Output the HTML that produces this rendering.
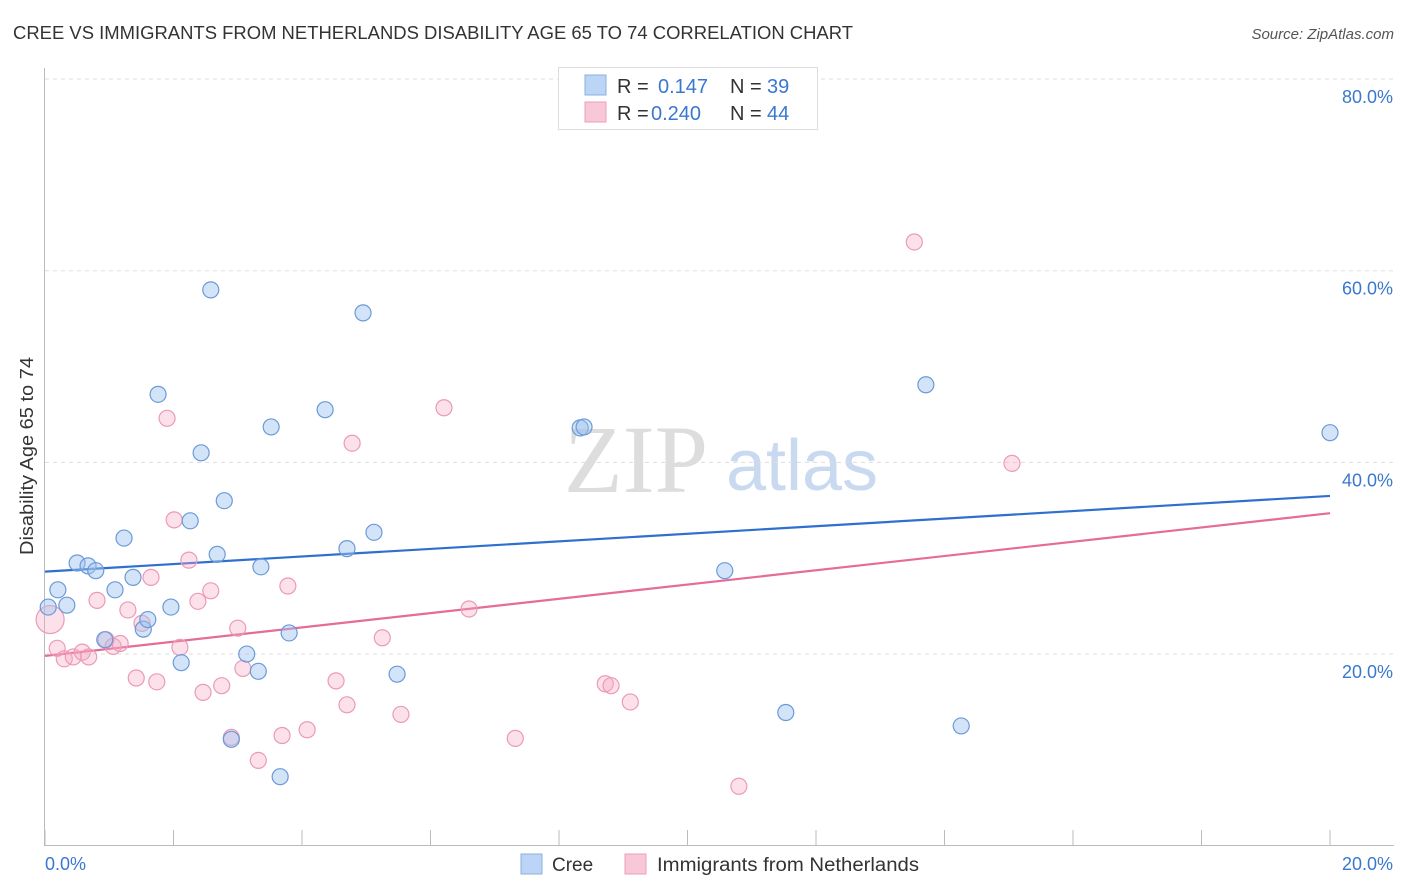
<!DOCTYPE html>
<html><head><meta charset="utf-8"><style>
body{margin:0;background:#fff;font-family:"Liberation Sans",sans-serif;}
svg{display:block}
</style></head><body>
<svg id="chart" width="1406" height="892">
<text x="13" y="39" font-size="18" fill="#333" textLength="840" lengthAdjust="spacingAndGlyphs">CREE VS IMMIGRANTS FROM NETHERLANDS DISABILITY AGE 65 TO 74 CORRELATION CHART</text>
<text x="1394" y="39" font-size="15" fill="#555" font-style="italic" text-anchor="end">Source: ZipAtlas.com</text>
<text x="33" y="456" font-size="18" fill="#333" transform="rotate(-90 33 456)" text-anchor="middle" textLength="198" lengthAdjust="spacingAndGlyphs">Disability Age 65 to 74</text>
<g><text x="636" y="492" font-size="96" font-family="Liberation Serif,serif" fill="#ddd" text-anchor="middle">ZIP</text><text x="802" y="490" font-size="72" fill="#c8d9f0" text-anchor="middle">atlas</text></g>
<g id="grid"></g><g id="axes"></g><g id="trend"></g><g id="pts"></g>
<g>
<rect x="558.5" y="67.5" width="259" height="62" fill="#fff" stroke="#ddd"/>
<rect x="585" y="75" width="21" height="20" fill="#bcd4f5" stroke="#8ab0e0"/>
<rect x="585" y="102" width="21" height="20" fill="#f9c8d8" stroke="#ee9cb8"/>
<text x="617" y="93" font-size="20" fill="#333">R = </text><text x="658" y="93" font-size="20" fill="#3a78d0">0.147</text>
<text x="730" y="93" font-size="20" fill="#333">N = </text><text x="767" y="93" font-size="20" fill="#3a78d0">39</text>
<text x="617" y="120" font-size="20" fill="#333">R = </text><text x="651" y="120" font-size="20" fill="#3a78d0">0.240</text>
<text x="730" y="120" font-size="20" fill="#333">N = </text><text x="767" y="120" font-size="20" fill="#3a78d0">44</text>
</g>
<g>
<rect x="521" y="854" width="21" height="20" fill="#bcd4f5" stroke="#8ab0e0"/>
<text x="552" y="871" font-size="19" fill="#333">Cree</text>
<rect x="625" y="854" width="21" height="20" fill="#f9c8d8" stroke="#ee9cb8"/>
<text x="657" y="871" font-size="19" fill="#333" textLength="262" lengthAdjust="spacingAndGlyphs">Immigrants from Netherlands</text>
</g>
</svg>
<script>
const creeX=[0.05,0.20,0.34,0.50,0.67,0.79,0.93,1.09,1.23,1.37,1.53,1.60,1.76,1.96,2.12,2.26,2.43,2.58,2.68,2.79,2.90,3.14,3.32,3.36,3.52,3.66,3.80,4.36,4.70,4.95,5.12,5.48,8.33,8.39,10.58,11.53,13.71,14.26,20.0];
const creeY=[24.9,26.7,25.1,29.5,29.2,28.7,21.5,26.7,32.1,28.0,22.6,23.6,47.1,24.9,19.1,33.9,41.0,58.0,30.4,36.0,11.1,20.0,18.2,29.1,43.7,7.2,22.2,45.5,31.0,55.6,32.7,17.9,43.6,43.7,28.7,13.9,48.1,12.5,43.1];
const nethX=[0.08,0.19,0.30,0.44,0.58,0.68,0.81,0.95,1.06,1.17,1.29,1.42,1.51,1.65,1.74,1.90,2.01,2.10,2.24,2.38,2.46,2.58,2.75,2.90,3.00,3.08,3.32,3.69,3.78,4.08,4.53,4.70,4.78,5.25,5.54,6.21,6.60,7.32,8.72,8.81,9.11,10.80,13.53,15.05];
const nethY=[23.6,20.6,19.5,19.7,20.2,19.7,25.6,21.5,20.8,21.1,24.6,17.5,23.2,28.0,17.1,44.6,34.0,20.7,29.8,25.5,16.0,26.6,16.7,11.3,22.7,18.5,8.9,11.5,27.1,12.1,17.2,14.7,42.0,21.7,13.7,45.7,24.7,11.2,16.9,16.7,15.0,6.2,63.0,39.9];
const creeTrend=[28.6,36.5];
const nethTrend=[19.8,34.7];
const yTicks=[20,40,60,80];
const yTickLabels=["20.0%","40.0%","60.0%","80.0%"];
const xTicks=[0,2,4,6,8,10,12,14,16,18,20];
const xs=v=>45+v*64.25, ys=v=>845.7-v*9.583;
const NS="http://www.w3.org/2000/svg";
function mk(t,a,p){const e=document.createElementNS(NS,t);for(const k in a)e.setAttribute(k,a[k]);p.appendChild(e);return e;}
const grid=document.getElementById('grid'),axes=document.getElementById('axes'),tr=document.getElementById('trend'),pts=document.getElementById('pts');
yTicks.forEach((v,i)=>{
 const l=mk('line',{x1:45,x2:1394,y1:ys(v),y2:ys(v),stroke:'#ddd','stroke-dasharray':'4,4'},grid);
 
 
 const t=mk('text',{x:1393,y:ys(v)+24,'font-size':18,fill:'#3a78d0','text-anchor':'end'},grid);t.textContent=yTickLabels[i];
 
 
});
mk('line',{x1:45,x2:1394,y1:845.5,y2:845.5,stroke:'#bbb'},axes);
mk('line',{x1:44.5,x2:44.5,y1:68,y2:846,stroke:'#bbb'},axes);
xTicks.forEach(v=>{const l=mk('line',{x1:xs(v),x2:xs(v),y1:830,y2:846,stroke:'#bbb'},axes);
 
 });
let t=mk('text',{x:45,y:870,'font-size':18,fill:'#3a78d0'},axes);t.textContent='0.0%';


t=mk('text',{x:1393,y:870,'font-size':18,fill:'#3a78d0','text-anchor':'end'},axes);t.textContent='20.0%';


let l=mk('line',{x1:xs(0),x2:xs(20),y1:ys(creeTrend[0]),y2:ys(creeTrend[1]),stroke:'#2e6fd0','stroke-width':2.2},tr);


l=mk('line',{x1:xs(0),x2:xs(20),y1:ys(nethTrend[0]),y2:ys(nethTrend[1]),stroke:'#e56b98','stroke-width':2.2},tr);


nethX.forEach((x,i)=>{const c=mk('circle',{cx:xs(x),cy:ys(nethY[i]),r:i==0?14:8,fill:'rgba(245,170,195,0.35)',stroke:'#eb9ab6','stroke-width':1.2},pts);
 
 });
creeX.forEach((x,i)=>{const c=mk('circle',{cx:xs(x),cy:ys(creeY[i]),r:8,fill:'rgba(160,195,240,0.45)',stroke:'#6a9ad8','stroke-width':1.2},pts);
 
 });
</script>
</body></html>
